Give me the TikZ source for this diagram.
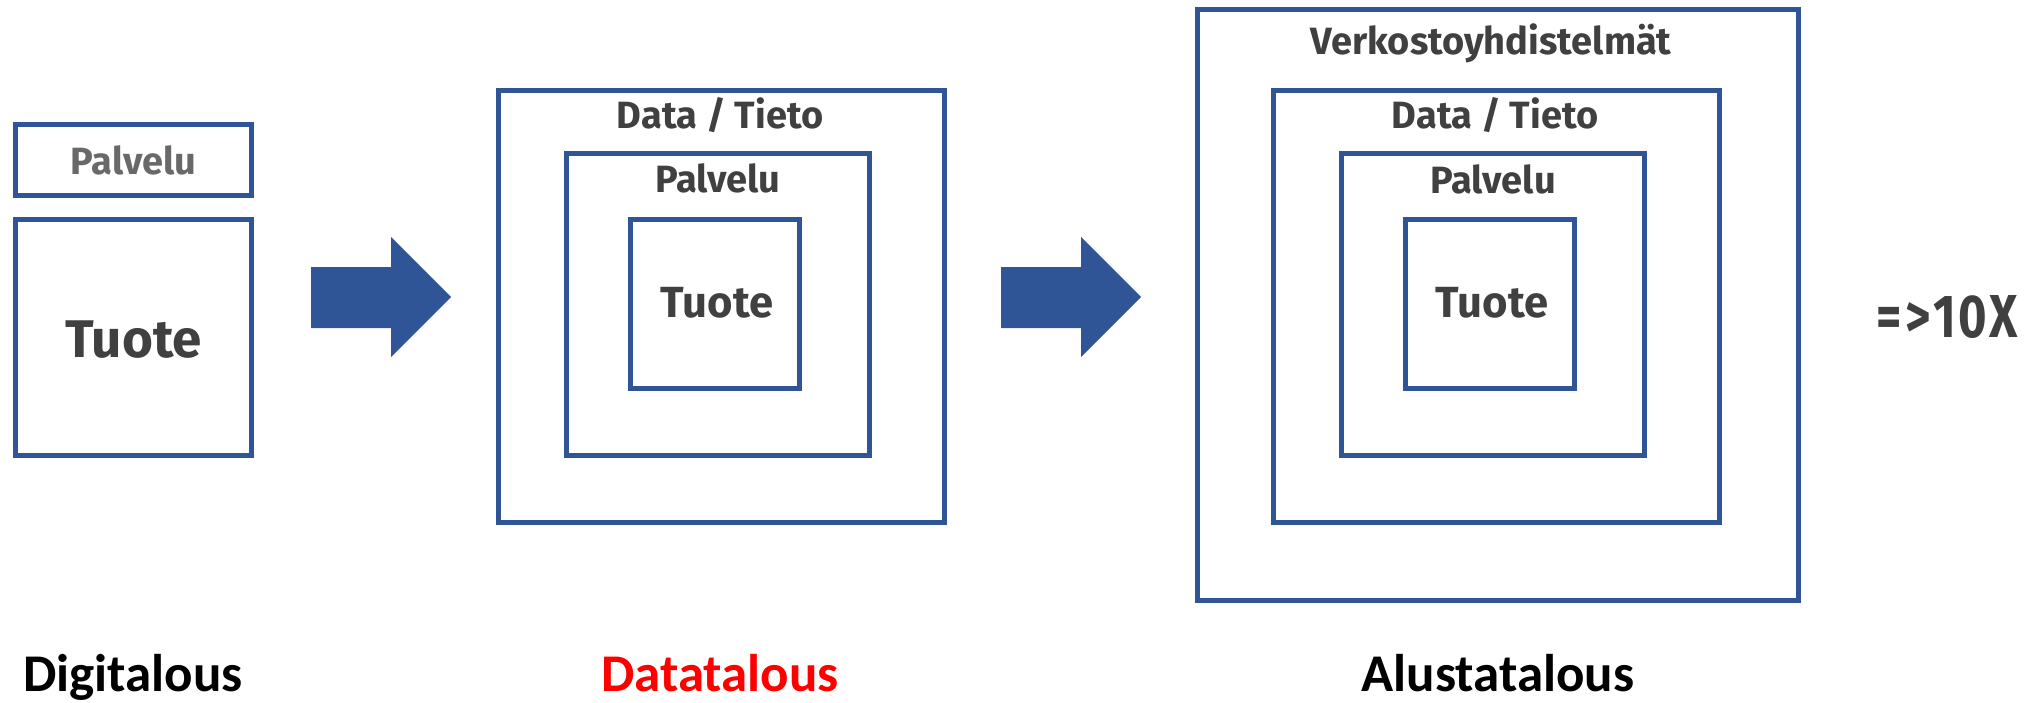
\documentclass[tikz,border=0pt]{standalone}
\usepackage{fontspec}
\usepackage{graphicx}
\setmainfont{Fira Sans}
\newfontfamily\labfont{Carlito}
\newfontfamily\numfont{Fira Sans}
\definecolor{frameblue}{RGB}{47,85,151}
\definecolor{inkgray}{RGB}{64,64,64}
\definecolor{softgray}{RGB}{105,105,105}
\definecolor{alertred}{RGB}{255,0,0}
\tikzset{
  frame/.style 2 args={draw=frameblue, line width=2.4pt, rectangle,
    inner sep=0pt, outer sep=0pt, minimum width=#1, minimum height=#2},
  boxtext/.style={anchor=base, inner sep=0pt, text=inkgray,
    font=\fontsize{19}{22}\selectfont\bfseries},
  bigtext/.style={anchor=base, inner sep=0pt, text=inkgray,
    font=\fontsize{#1}{#1}\selectfont\bfseries},
  eralabel/.style={anchor=base, inner sep=0pt,
    font=\labfont\fontsize{26.5}{28}\selectfont\bfseries},
  blockarrow/.style={fill=frameblue, draw=none}
}
\begin{document}
\begin{tikzpicture}[x=0.5pt, y=-0.5pt]
\useasboundingbox (0,0) rectangle (2038,702);

% --- first stage: product with a separate service
\node[frame={118pt}{35.5pt}] (lserv) at (133.5,160) {};
\node[frame={118pt}{118pt}] (lprod) at (133.5,337.5) {};
\node[boxtext, text=softgray] (lservt) at (133.5,174) {Palvelu};
\node[bigtext=26.5] (lprodt) at (133.5,357) {Tuote};

% --- arrow between stages
\fill[blockarrow] (311,267) -- (391,267) -- (391,237) -- (451,297)
  -- (391,357) -- (391,328) -- (311,328) -- cycle;

% --- second stage: nested data / service / product
\node[frame={223pt}{216pt}] (mdata) at (721.5,306.5) {};
\node[frame={151.5pt}{151pt}] (mserv) at (718,304.5) {};
\node[frame={84.5pt}{84.5pt}] (mprod) at (715,304) {};
\node[boxtext] (mdatat) at (720,128) {Data / Tieto};
\node[boxtext] (mservt) at (718,192) {Palvelu};
\node[bigtext=21.8] (mprodt) at (717,317) {Tuote};

% --- arrow between stages
\fill[blockarrow] (1001,267) -- (1081,267) -- (1081,237) -- (1141,297)
  -- (1081,357) -- (1081,328) -- (1001,328) -- cycle;

% --- third stage: network of networks around the nested boxes
\node[frame={300.5pt}{295.5pt}] (rnet) at (1498,305) {};
\node[frame={223pt}{216pt}] (rdata) at (1496.5,306.5) {};
\node[frame={151.5pt}{151pt}] (rserv) at (1493,304.5) {};
\node[frame={84.5pt}{84.5pt}] (rprod) at (1490,304) {};
\node[boxtext] (rnett) at (1491,54) {Verkostoyhdistelmät};
\node[boxtext] (rdatat) at (1495,128) {Data / Tieto};
\node[boxtext] (rservt) at (1493,193) {Palvelu};
\node[bigtext=21.8] (rprodt) at (1492,317) {Tuote};

% --- growth factor
\node[anchor=base west, inner sep=0pt, text=inkgray] (gain) at (1876,337)
  {\resizebox{70.5pt}{21pt}{\numfont\bfseries =\kern0.08em>\kern0.06em1\kern0.04em0\kern0.04em X}};

% --- stage names
\node[eralabel] (ldig) at (133,691) {Digitalous};
\node[eralabel, text=alertred] (mdat) at (720,691) {Datatalous};
\node[eralabel] (ralu) at (1498,691) {Alustatalous};
\end{tikzpicture}
\end{document}
